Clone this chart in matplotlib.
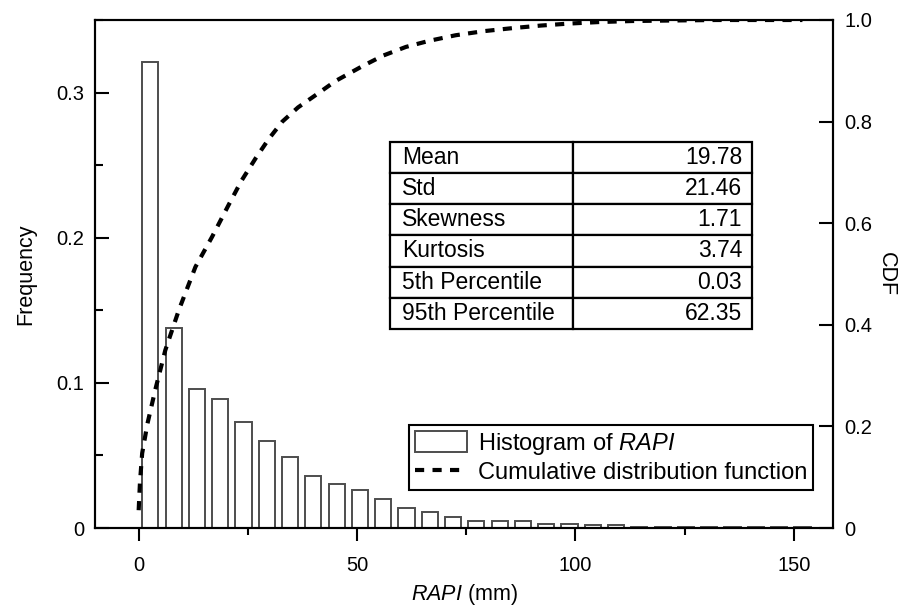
import numpy as np
import matplotlib.pyplot as plt
from matplotlib.ticker import MultipleLocator, FuncFormatter

plt.rcParams['font.family'] = ['Liberation Sans', 'DejaVu Sans']
plt.rcParams['mathtext.fontset'] = 'custom'
plt.rcParams['mathtext.rm'] = 'Liberation Sans'
plt.rcParams['mathtext.it'] = 'Liberation Sans:italic'

# Histogram of RAPI: relative frequency per 160/30 mm bin
bin_width = 160 / 30
freq = [0.321, 0.138, 0.096, 0.089, 0.073, 0.060, 0.049, 0.036, 0.030, 0.026,
        0.020, 0.014, 0.011, 0.0075, 0.005, 0.005, 0.0045, 0.003, 0.0028, 0.0022,
        0.0018, 0.001, 0.001, 0.0008, 0.0007, 0.0006, 0.0005, 0.0005, 0.0004]
centers = (np.arange(len(freq)) + 0.5) * bin_width

# Cumulative distribution function
cdf_x = [0, 0.3, 0.8, 2.0, 3.8, 6.1, 9.2, 13.0, 16.8, 20.6, 23.5, 26.8, 29.8, 32.9,
         36.5, 40.5, 45.1, 51.2, 56.0, 61.2, 66.5, 72.6, 79.0, 85.6, 92.0, 98.6,
         105.5, 113.0, 122.0, 132.0, 142.0, 152.0]
cdf_y = [0.035, 0.09, 0.147, 0.205, 0.272, 0.350, 0.429, 0.514, 0.573, 0.636, 0.683,
         0.728, 0.766, 0.800, 0.828, 0.852, 0.880, 0.909, 0.930, 0.947, 0.959, 0.970,
         0.978, 0.984, 0.989, 0.993, 0.996, 0.998, 0.999, 1.0, 1.0, 1.0]

# Summary statistics
stat_names = ["Mean", "Std", "Skewness", "Kurtosis", "5th Percentile", "95th Percentile"]
stat_values = ["19.78", "21.46", "1.71", "3.74", "0.03", "62.35"]

fig = plt.figure(figsize=(9.1, 6.1), dpi=100)
ax = fig.add_axes([95 / 910, 1 - 528 / 610, 738 / 910, 508 / 610])
ax2 = ax.twinx()

bars = ax.bar(centers, freq, width=3.7, facecolor="white", edgecolor="#4d4d4d",
              linewidth=1.4, label="Histogram of $\\it{RAPI}$")
line, = ax2.plot(cdf_x, cdf_y, color="black", linewidth=3, dashes=(2.2, 2.0),
                 label="Cumulative distribution function")

ax.set_xlim(-10, 159)
ax.set_ylim(0, 0.35)
ax2.set_ylim(0, 1.0)

ax.xaxis.set_major_locator(MultipleLocator(50))
ax.xaxis.set_minor_locator(MultipleLocator(25))
ax.yaxis.set_major_locator(MultipleLocator(0.1))
ax.yaxis.set_minor_locator(MultipleLocator(0.05))
ax2.yaxis.set_major_locator(MultipleLocator(0.2))

fmt = FuncFormatter(lambda v, p: "0" if abs(v) < 1e-9 else f"{v:.1f}")
ax.yaxis.set_major_formatter(fmt)
ax2.yaxis.set_major_formatter(fmt)

for a in (ax, ax2):
    for s in a.spines.values():
        s.set_linewidth(1.5)
ax.tick_params(axis="x", which="major", direction="out", length=9, width=1.5,
               labelsize=14.5, pad=11)
ax.tick_params(axis="x", which="minor", direction="out", length=5, width=1.5)
ax.tick_params(axis="y", which="major", direction="in", length=10, width=1.5,
               labelsize=14.5, pad=8)
ax.tick_params(axis="y", which="minor", direction="in", length=6, width=1.5)
ax2.tick_params(axis="y", which="major", direction="in", length=10, width=1.5,
                labelsize=14.5, pad=8)

ax.set_xlabel("$\\it{RAPI}$ (mm)", fontsize=15.5, labelpad=5)
ax.set_ylabel("Frequency", fontsize=15.5, labelpad=14)
ax2.set_ylabel("CDF", fontsize=15.5, rotation=270, labelpad=18)

# Statistics table
tbl = ax2.table(cellText=[[n, v] for n, v in zip(stat_names, stat_values)],
                bbox=[0.3997, 0.3917, 0.4905, 0.3687], colWidths=[0.505, 0.495])
tbl.auto_set_font_size(False)
tbl.set_fontsize(16.5)
for (r, c), cell in tbl.get_celld().items():
    cell.set_linewidth(1.6)
    cell.set_edgecolor("black")
    if c == 0:
        cell._loc = "left"
        cell.PAD = 0.065
        cell.get_text().set_horizontalalignment("left")
    else:
        cell._loc = "right"
        cell.PAD = 0.055
        cell.get_text().set_horizontalalignment("right")

leg = ax2.legend([bars, line], [bars.get_label(), line.get_label()],
                 loc="upper right", bbox_to_anchor=(0.973, 0.2028), borderaxespad=0,
                 fontsize=17, frameon=True, fancybox=False, framealpha=1,
                 edgecolor="black", handlelength=2.2, handleheight=1.0,
                 handletextpad=0.45, borderpad=0.25, labelspacing=0.15)
leg.get_frame().set_linewidth(1.5)

fig.savefig("out.png", dpi=100)
